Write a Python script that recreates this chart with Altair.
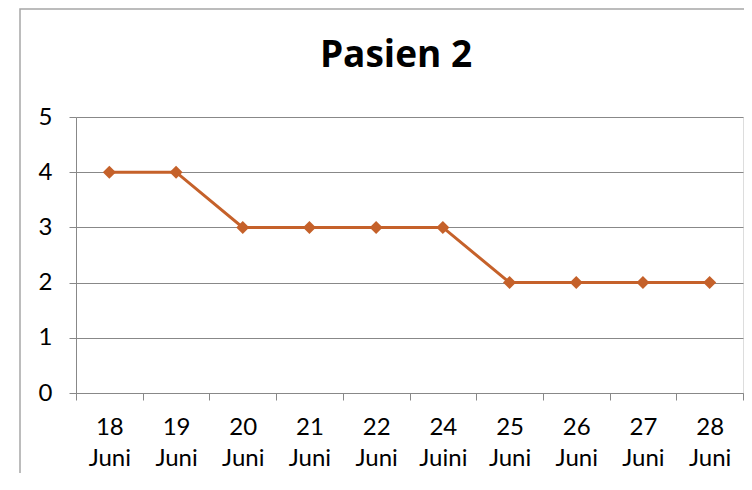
import altair as alt
import pandas as pd

dates = ["18 Juni", "19 Juni", "20 Juni", "21 Juni", "22 Juni",
         "24 Juini", "25 Juni", "26 Juni", "27 Juni", "28 Juni"]
values = [4, 4, 3, 3, 3, 3, 2, 2, 2, 2]
y_ticks = [0, 1, 2, 3, 4, 5]
title_text = "Pasien 2"

df = pd.DataFrame({"tanggal": dates, "nilai": values})

GRAY = "#888888"
ORANGE = "#C5612A"
FONT = "Lato"

x_enc = alt.X(
    "tanggal:N", sort=dates, title=None,
    scale=alt.Scale(type="band", paddingInner=0, paddingOuter=0),
    axis=alt.Axis(labelAngle=0, labelExpr="split(datum.label, ' ')",
                  tickBand="extent", grid=False, domainColor=GRAY,
                  tickColor=GRAY, tickSize=7, labelFont=FONT,
                  labelFontSize=24, labelColor="black", labelLineHeight=31,
                  labelPadding=15),
)
y_enc = alt.Y(
    "nilai:Q", title=None,
    scale=alt.Scale(domain=[0, 5]),
    axis=alt.Axis(values=y_ticks, grid=True, gridColor=GRAY, domainColor=GRAY,
                  tickColor=GRAY, tickSize=7, labelFont=FONT, labelFontSize=24,
                  labelColor="black", labelPadding=17),
)

frame = alt.Chart(alt.Data(values=[{}])).mark_rect(
    fill=None, stroke="#A6A6A6", strokeWidth=1.5
).encode(
    x=alt.value(-56), x2=alt.value(760), y=alt.value(-108), y2=alt.value(500)
)

title = alt.Chart(alt.Data(values=[{"t": title_text}])).mark_text(
    font="Open Sans", fontSize=37, fontWeight="bold", color="black",
    align="center", baseline="alphabetic"
).encode(text="t:N", x=alt.value(320), y=alt.value(-50))

line = alt.Chart(df).mark_line(color=ORANGE, strokeWidth=3).encode(x=x_enc, y=y_enc)
pts = alt.Chart(df).mark_point(shape="diamond", filled=True, color=ORANGE,
                               size=170, opacity=1).encode(x=x_enc, y=y_enc)

chart = alt.layer(frame, title, line, pts).properties(
    width=667, height=276,
    autosize=alt.AutoSizeParams(type="none"),
    padding={"left": 68, "top": 109, "right": 1, "bottom": 80},
).configure_view(stroke=None).configure(background="white")

chart.save("out.html", embed_options={"renderer": "svg", "actions": False})
